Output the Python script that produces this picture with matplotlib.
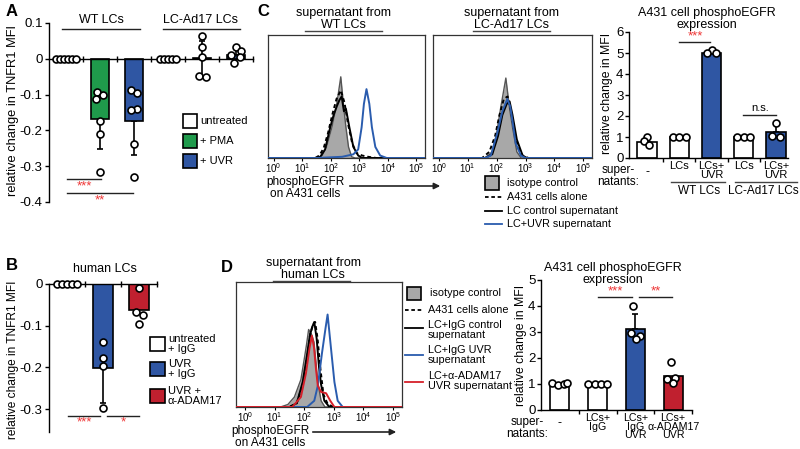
import numpy as np
import matplotlib
matplotlib.use('Agg')
import matplotlib.pyplot as plt
from matplotlib.lines import Line2D
from matplotlib.patches import Rectangle, FancyArrowPatch

plt.rcParams['font.family'] = ['Liberation Sans', 'DejaVu Sans']
plt.rcParams['mathtext.fontset'] = 'custom'
plt.rcParams['mathtext.rm'] = 'Liberation Sans'
plt.rcParams['mathtext.default'] = 'regular'
plt.rcParams['axes.linewidth'] = 1.0

# ---------------- data ----------------
# panel A: relative change in TNFR1 MFI
a_means = [0.0, -0.168, -0.173, 0.0, 0.001, 0.010]
a_sd = [0.0, 0.085, 0.095, 0.0, 0.050, 0.017]
a_points = [[0, 0, 0, 0, 0, 0],
            [-0.092, -0.100, -0.113, -0.175, -0.210, -0.315],
            [-0.088, -0.095, -0.140, -0.143, -0.238, -0.330],
            [0, 0, 0, 0, 0],
            [0.065, 0.033, 0.005, -0.048, -0.052],
            [0.033, 0.022, 0.010, 0.005, -0.012]]
a_legend = ['untreated', '+ PMA', '+ UVR']

# panel B: human LCs
b_means = [0.0, -0.202, -0.062]
b_sd = [0.0, 0.083, 0.0]
b_points = [[0, 0, 0, 0, 0],
            [-0.140, -0.177, -0.197, -0.297],
            [-0.010, -0.068, -0.075, -0.097]]
b_legend = ['untreated\n+ IgG', 'UVR\n+ IgG', 'UVR +\nα-ADAM17']

# panel C histograms (log10 intensity, % of max)
cwt_iso_x = [-0.2, 1.5, 1.7, 1.85, 2.04, 2.21, 2.35, 2.44, 2.53, 2.62, 2.73, 2.85, 5.3]
cwt_iso_y = [0, 0, 2, 9, 25, 44, 66, 44, 25, 9, 1, 0, 0]
cwt_alone_x = [-0.2, 1.45, 1.6, 1.75, 1.9, 2.05, 2.2, 2.35, 2.48, 2.6, 2.75, 2.9, 3.1, 3.3, 3.6, 5.3]
cwt_alone_y = [0, 0, 2, 8, 20, 35, 48, 55, 45, 28, 12, 4, 2, 1, 0, 0]
cwt_ctrl_x = [-0.2, 1.5, 1.63, 1.8, 1.98, 2.1, 2.21, 2.3, 2.38, 2.46, 2.53, 2.65, 2.79, 2.96, 3.1, 5.3]
cwt_ctrl_y = [0, 0, 1, 7, 25, 35, 42, 47, 50, 38, 40, 25, 9, 2, 0, 0]
cwt_uvr_x = [-0.2, 1.5, 2.4, 2.79, 2.96, 3.08, 3.16, 3.25, 3.35, 3.44, 3.56, 3.73, 3.96, 5.3]
cwt_uvr_y = [0, 0, 1, 3, 7, 25, 44, 56, 44, 25, 9, 2, 0, 0]

cad_iso_x = [-0.2, 1.6, 1.85, 2.0, 2.15, 2.32, 2.45, 2.55, 2.7, 2.85, 5.3]
cad_iso_y = [0, 0, 5, 20, 42, 65, 40, 25, 5, 0, 0]
cad_alone_x = [-0.2, 1.5, 1.75, 1.95, 2.1, 2.25, 2.38, 2.5, 2.62, 2.75, 2.9, 3.1, 5.3]
cad_alone_y = [0, 0, 5, 18, 35, 48, 50, 38, 20, 8, 2, 0, 0]
cad_ctrl_x = [-0.2, 1.6, 1.85, 2.05, 2.2, 2.35, 2.45, 2.55, 2.7, 2.9, 3.05, 5.3]
cad_ctrl_y = [0, 0, 3, 18, 35, 44, 46, 35, 15, 2, 0, 0]
cad_uvr_x = [-0.2, 1.6, 1.8, 2.02, 2.2, 2.37, 2.47, 2.55, 2.66, 2.84, 3.0, 5.3]
cad_uvr_y = [0, 0, 2, 20, 38, 48, 42, 30, 12, 2, 0, 0]

# panel C bars
c_labels = ['-', 'LCs', 'LCs+\nUVR', 'LCs', 'LCs+\nUVR']
c_means = [0.77, 1.0, 5.02, 1.0, 1.24]
c_sd = [0.2, 0.0, 0.0, 0.0, 0.36]
c_points = [[1.0, 0.83, 0.60], [1.0, 1.0, 1.0], [5.15, 5.0, 5.0],
            [1.0, 1.0, 1.0], [1.65, 1.05, 1.02]]

# panel D histograms
dh_iso_x = [-0.3, 1.2, 1.45, 1.67, 1.89, 2.0, 2.08, 2.15, 2.25, 2.33, 2.4, 2.46, 2.57, 2.7, 5.3]
dh_iso_y = [0, 0, 2, 8, 22, 38, 50, 62, 58, 52, 35, 20, 5, 0, 0]
dh_alone_x = [-0.3, 1.5, 1.75, 1.95, 2.1, 2.2, 2.3, 2.37, 2.45, 2.55, 2.65, 2.8, 3.0, 5.3]
dh_alone_y = [0, 0, 3, 18, 40, 58, 66, 68, 55, 30, 10, 2, 0, 0]
dh_ctrl_x = [-0.3, 1.5, 1.75, 1.95, 2.1, 2.2, 2.27, 2.34, 2.42, 2.5, 2.57, 2.68, 2.85, 5.3]
dh_ctrl_y = [0, 0, 3, 20, 42, 58, 64, 68, 55, 32, 18, 5, 0, 0]
dh_uvr_x = [-0.3, 2.1, 2.34, 2.46, 2.6, 2.72, 2.79, 2.9, 3.02, 3.13, 3.3, 5.3]
dh_uvr_y = [0, 0, 5, 17, 43, 63, 74, 48, 20, 5, 0, 0]
dh_adam_x = [-0.3, 1.6, 1.89, 2.06, 2.18, 2.26, 2.33, 2.4, 2.46, 2.57, 2.74, 2.88, 3.02, 5.3]
dh_adam_y = [0, 0, 8, 27, 47, 57, 48, 30, 17, 12, 11, 5, 0, 0]

# panel D bars
d_labels = ['-', 'LCs+\nIgG', 'LCs+\nIgG\nUVR', 'LCs+\nα-ADAM17\nUVR']
d_means = [1.03, 1.0, 3.1, 1.32]
d_sd = [0.0, 0.0, 0.6, 0.0]
d_points = [[1.05, 0.98, 1.0, 1.05], [1.0, 1.0, 1.0, 1.0],
            [4.0, 2.97, 2.85, 2.75], [1.85, 1.25, 1.18, 1.02]]

# ---------------- style / layout ----------------
GREEN = '#1f9a4b'
BLUE = '#2f56a3'
RED = '#c0202f'
HBLUE = '#2a5cae'
HRED = '#d6202a'
STAR = '#ee3535'
GRAY = '#a8a8a8'

a_colors = ['white', GREEN, BLUE, 'white', 'white', BLUE]
b_colors = ['white', BLUE, RED]
c_colors = ['white', 'white', BLUE, 'white', BLUE]
d_colors = ['white', 'white', BLUE, RED]

a_jit = [[-0.3, -0.18, -0.06, 0.06, 0.18, 0.3], [-0.1, 0.08, -0.12, 0, 0, 0],
         [-0.1, 0.1, 0.1, -0.1, 0, 0], [-0.24, -0.12, 0, 0.12, 0.24],
         [0, 0, 0, -0.1, 0.12], [0, 0.15, -0.15, 0.13, -0.05]]
b_jit = [[-0.28, -0.14, 0, 0.14, 0.28], [0, 0, 0, 0], [0, -0.08, 0.1, 0]]
c_jit = [[0, -0.1, 0.05], [-0.2, 0, 0.2], [0, -0.15, 0.15], [-0.2, 0, 0.2], [0, -0.12, 0.12]]
d_jit = [[-0.2, -0.05, 0.1, 0.2], [-0.25, -0.08, 0.08, 0.25],
         [-0.05, -0.12, 0.12, 0.02], [-0.05, 0.05, -0.15, 0.0]]

W, H = 800, 449
fig = plt.figure(figsize=(W / 100, H / 100), dpi=100)


def add_ax(l, t, r, b):
    return fig.add_axes([l / W, 1 - b / H, (r - l) / W, (b - t) / H])


def ptext(x, y, s, **kw):
    kw.setdefault('ha', 'center')
    kw.setdefault('va', 'center')
    kw.setdefault('fontsize', 9)
    fig.text(x / W, 1 - y / H, s, **kw)


def pline(x0, x1, y, color='#222222', lw=1.0):
    fig.add_artist(Line2D([x0 / W, x1 / W], [1 - y / H, 1 - y / H], color=color, lw=lw))


def pbox(x0, y0, x1, y1, color):
    fig.add_artist(Rectangle((x0 / W, 1 - y1 / H), (x1 - x0) / W, (y1 - y0) / H,
                             facecolor=color, edgecolor='black', lw=1.2,
                             transform=fig.transFigure))


def pleg_line(x0, x1, y, color, ls='-'):
    fig.add_artist(Line2D([x0 / W, x1 / W], [1 - y / H, 1 - y / H], color=color, lw=1.3, ls=ls))


def parrow(x0, x1, y):
    fig.add_artist(FancyArrowPatch(
        (x0 / W, 1 - y / H), (x1 / W, 1 - y / H), transform=fig.transFigure,
        arrowstyle='-|>', mutation_scale=9, color='#222222', lw=1.2))


def bar_panel(ax, means, sd, points, colors, jit, width):
    x = np.arange(len(means))
    ax.bar(x, means, width=width, color=colors, edgecolor='black', lw=1.2, zorder=2)
    for i, (m, s) in enumerate(zip(means, sd)):
        if s > 0:
            low = s if (m < 0 or abs(m) < 0.005) else 0
            high = s if m >= 0 else 0
            ax.errorbar(i, m, yerr=[[low], [high]], color='black', lw=1.2,
                        capsize=2.5, capthick=1.2, zorder=1)
        ax.plot(np.array(jit[i]) + i, points[i], 'o', ms=5, mfc='white', mec='black',
                mew=1.2, zorder=3, clip_on=False)
    for s in ['top', 'right']:
        ax.spines[s].set_visible(False)
    ax.tick_params(labelsize=9.5, width=1.0, length=3, pad=1.5)


# ---------------- panel A ----------------
axA = add_ax(49, 23, 253, 202)
bar_panel(axA, a_means, a_sd, a_points, a_colors, a_jit, 0.54)
axA.set_xlim(-0.5, 5.5)
axA.set_ylim(-0.4, 0.1)
axA.set_yticks([0.1, 0, -0.1, -0.2, -0.3, -0.4])
axA.set_yticklabels(['0.1', '0', '-0.1', '-0.2', '-0.3', '-0.4'])
axA.spines['bottom'].set_position(('data', 0))
axA.set_xticks([0.5, 1.5, 2.5, 3.5, 4.5, 5.5])
axA.set_xticklabels([])
axA.tick_params(axis='x', direction='inout', length=4)
ptext(13, 110, 'relative change in TNFR1 MFI', rotation=90, fontsize=9.3)
ptext(12, 12, 'A', fontsize=12, fontweight='bold')
ptext(101, 20, 'WT LCs')
pline(62, 140, 29)
ptext(201, 20, 'LC-Ad17 LCs')
pline(163, 240, 29)
pline(67, 101, 179)
ptext(84, 186, '***', color=STAR, fontsize=9.5)
pline(67, 133, 193)
ptext(100, 200, '**', color=STAR, fontsize=9.5)
for i, (lab, col) in enumerate(zip(a_legend, a_colors[:3])):
    yc = 121 + i * 20
    pbox(183, yc - 7, 197, yc + 7, col)
    ptext(200, yc, lab, ha='left', fontsize=8)

# ---------------- panel B ----------------
axB = add_ax(49, 284, 157, 432)
bar_panel(axB, b_means, b_sd, b_points, b_colors, b_jit, 0.53)
axB.set_xlim(-0.5, 2.5)
axB.set_ylim(-0.355, 0)
axB.set_yticks([0, -0.1, -0.2, -0.3])
axB.set_yticklabels(['0', '-0.1', '-0.2', '-0.3'])
axB.spines['bottom'].set_position(('data', 0))
axB.set_xticks([0.5, 1.5, 2.5])
axB.set_xticklabels([])
axB.tick_params(axis='x', direction='inout', length=4)
ptext(13, 360, 'relative change in TNFR1 MFI', rotation=90, fontsize=8.6)
ptext(12, 266, 'B', fontsize=12, fontweight='bold')
ptext(105, 269, 'human LCs')
pline(68, 100, 416)
ptext(84, 422, '***', color=STAR, fontsize=9.5)
pline(107, 139, 416)
ptext(123, 422, '*', color=STAR, fontsize=9.5)
for lab, col, yc in zip(b_legend, b_colors, [344, 369, 396]):
    pbox(150, yc - 7, 165, yc + 7, col)
    ptext(168, yc, lab, ha='left', fontsize=8, linespacing=0.9)


# ---------------- histograms ----------------
def hist_panel(ax, curves, iso, xlo):
    ax.set_xscale('log')
    ix, iy = iso
    ax.fill_between(10 ** np.array(ix), iy, color=GRAY, lw=0, zorder=1)
    ax.plot(10 ** np.array(ix), iy, color='#555555', lw=1.0, zorder=2)
    for (cx, cy, col, ls) in curves:
        ax.plot(10 ** np.array(cx), cy, color=col, lw=1.4, ls=ls, zorder=3)
    ax.set_xlim(10 ** xlo, 10 ** 5.3)
    ax.set_ylim(0, 100)
    ax.set_yticks([])
    ax.set_xticks([10 ** k for k in range(6)])
    ax.set_xticklabels([r'$10^{%d}$' % k for k in range(6)])
    ax.xaxis.set_minor_locator(matplotlib.ticker.NullLocator())
    ax.tick_params(axis='x', labelsize=7, length=2, width=0.8, pad=0.5)
    for s in ax.spines.values():
        s.set_linewidth(0.9)
        s.set_color('#333333')


axCw = add_ax(268, 35, 425, 158)
hist_panel(axCw, [(cwt_alone_x, cwt_alone_y, 'black', (0, (2, 1.5))),
                  (cwt_ctrl_x, cwt_ctrl_y, 'black', '-'),
                  (cwt_uvr_x, cwt_uvr_y, HBLUE, '-')],
           (cwt_iso_x, cwt_iso_y), -0.2)
axCa = add_ax(433, 35, 592, 158)
hist_panel(axCa, [(cad_alone_x, cad_alone_y, 'black', (0, (2, 1.5))),
                  (cad_ctrl_x, cad_ctrl_y, 'black', '-'),
                  (cad_uvr_x, cad_uvr_y, HBLUE, '-')],
           (cad_iso_x, cad_iso_y), -0.2)
ptext(263, 12, 'C', fontsize=12, fontweight='bold')
ptext(343, 19, 'supernatant from\nWT LCs', linespacing=0.95)
pline(305, 382, 31, color='#444444')
ptext(512, 19, 'supernatant from\nLC-Ad17 LCs', linespacing=0.95)
pline(473, 550, 31, color='#444444')
ptext(305, 188, 'phosphoEGFR\non A431 cells', fontsize=8.5, linespacing=0.95)
parrow(347, 443, 186)
pbox(485, 176, 499, 190, GRAY)
ptext(507, 183, 'isotype control', ha='left', fontsize=7.8)
pleg_line(485, 502, 197, 'black', (0, (2, 1.5)))
ptext(507, 197, 'A431 cells alone', ha='left', fontsize=7.8)
pleg_line(485, 502, 211, 'black')
ptext(507, 211, 'LC control supernatant', ha='left', fontsize=7.8)
pleg_line(485, 502, 224, HBLUE)
ptext(507, 224, 'LC+UVR supernatant', ha='left', fontsize=7.8)

axDh = add_ax(236, 282, 402, 407)
hist_panel(axDh, [(dh_alone_x, dh_alone_y, 'black', (0, (2, 1.5))),
                  (dh_ctrl_x, dh_ctrl_y, 'black', '-'),
                  (dh_uvr_x, dh_uvr_y, HBLUE, '-'),
                  (dh_adam_x, dh_adam_y, HRED, '-')],
           (dh_iso_x, dh_iso_y), -0.3)
ptext(227, 267, 'D', fontsize=12, fontweight='bold')
ptext(313, 269, 'supernatant from\nhuman LCs', linespacing=0.95)
pline(273, 350, 281, color='#444444')
ptext(270, 437, 'phosphoEGFR\non A431 cells', fontsize=8.5, linespacing=0.9)
parrow(310, 399, 432)
pbox(407, 287, 421, 300, GRAY)
ptext(430, 293, 'isotype control', ha='left', fontsize=7.8)
pleg_line(405, 423, 310, 'black', (0, (2, 1.5)))
ptext(428, 310, 'A431 cells alone', ha='left', fontsize=7.8)
pleg_line(405, 423, 328, 'black')
ptext(428, 330, 'LC+IgG control\nsupernatant', ha='left', fontsize=7.8, linespacing=0.9)
pleg_line(405, 423, 355, HBLUE)
ptext(428, 355, 'LC+IgG UVR\nsupernatant', ha='left', fontsize=7.8, linespacing=0.9)
pleg_line(405, 423, 382, HRED)
ptext(428, 381, 'LC+α-ADAM17\nUVR supernatant', ha='left', fontsize=7.8, linespacing=0.9)


def cat_labels(ax, labels, dash_y, size):
    for i, lab in enumerate(labels):
        if lab == '-':
            ax.text(i, dash_y, lab, transform=ax.get_xaxis_transform(), ha='center',
                    va='center', fontsize=9)
        else:
            ax.text(i, -0.025, lab, transform=ax.get_xaxis_transform(), ha='center',
                    va='top', fontsize=size, linespacing=0.8)


# ---------------- panel C bars ----------------
axCb = add_ax(629, 32, 788, 158)
bar_panel(axCb, c_means, c_sd, c_points, c_colors, c_jit, 0.6)
axCb.set_xlim(-0.56, 4.37)
axCb.set_ylim(0, 6)
axCb.set_yticks(range(7))
axCb.tick_params(axis='y', pad=1)
axCb.set_xticks([0.5, 1.5, 2.5, 3.5])
axCb.set_xticklabels([])
cat_labels(axCb, c_labels, -0.11, 8)
ptext(607, 93, 'relative change in MFI', rotation=90, fontsize=8.8)
ptext(707, 19, 'A431 cell phosphoEGFR\nexpression', linespacing=0.95)
ptext(618, 176, 'super-\nnatants:', fontsize=8.5, linespacing=0.95)
pline(671, 725, 182, color='#444444')
ptext(699, 191, 'WT LCs', fontsize=8.5)
pline(735, 797, 182, color='#444444')
ptext(763, 191, 'LC-Ad17 LCs', fontsize=8.5)
pline(679, 710, 42)
ptext(695, 36, '***', color=STAR, fontsize=9.5)
pline(743, 776, 115)
ptext(760, 108, 'n.s.', fontsize=8)

# ---------------- panel D bars ----------------
axDb = add_ax(541, 280, 692, 410)
bar_panel(axDb, d_means, d_sd, d_points, d_colors, d_jit, 0.5)
axDb.set_xlim(-0.5, 3.5)
axDb.set_ylim(0, 5)
axDb.set_yticks(range(6))
axDb.tick_params(axis='y', pad=1)
axDb.set_xticks([0.5, 1.5, 2.5, 3.5])
axDb.set_xticklabels([])
cat_labels(axDb, d_labels, -0.1, 7.7)
ptext(521, 345, 'relative change in MFI', rotation=90, fontsize=8.8)
ptext(613, 274, 'A431 cell phosphoEGFR\nexpression', linespacing=0.95)
ptext(527, 428, 'super-\nnatants:', fontsize=8.5, linespacing=0.95)
pline(598, 632, 297)
ptext(615, 291, '***', color=STAR, fontsize=9.5)
pline(639, 672, 297)
ptext(656, 291, '**', color=STAR, fontsize=9.5)

fig.savefig('out.png', dpi=100)
